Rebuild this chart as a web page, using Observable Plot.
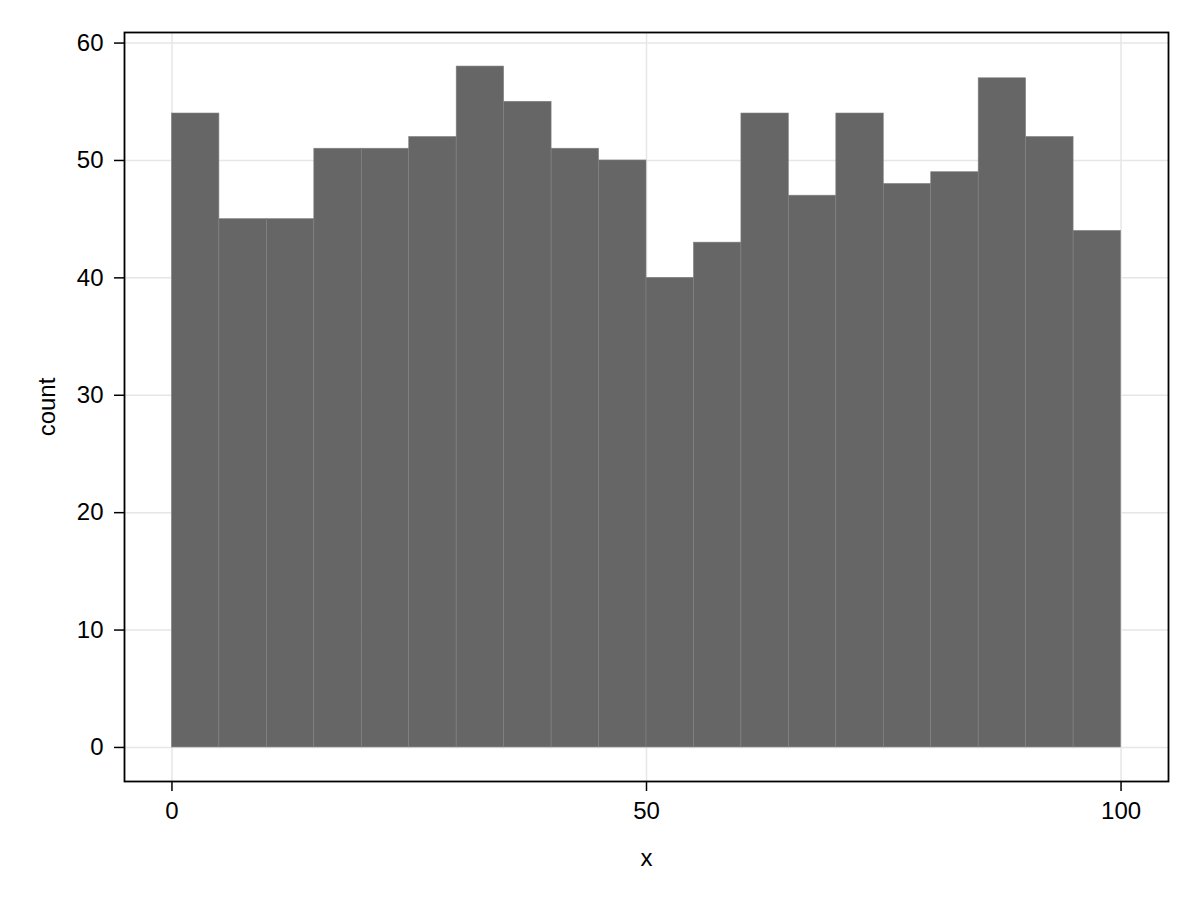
<!DOCTYPE html>
<html>
<head>
<meta charset="utf-8">
<script src="https://cdn.jsdelivr.net/npm/d3@7"></script>
<script src="https://cdn.jsdelivr.net/npm/@observablehq/plot@0.6"></script>
<style>
  html, body { margin: 0; padding: 0; background: #fff; }
  #chart svg { display: block; }
</style>
</head>
<body>
<div id="chart"></div>
<script>
const binStart = [0, 5, 10, 15, 20, 25, 30, 35, 40, 45, 50, 55, 60, 65, 70, 75, 80, 85, 90, 95];
const binEnd   = [5, 10, 15, 20, 25, 30, 35, 40, 45, 50, 55, 60, 65, 70, 75, 80, 85, 90, 95, 100];
const counts   = [54, 45, 45, 51, 51, 52, 58, 55, 51, 50, 40, 43, 54, 47, 54, 48, 49, 57, 52, 44];
const xTicks = [0, 50, 100];
const yTicks = [0, 10, 20, 30, 40, 50, 60];

const bins = binStart.map((s, i) => ({x1: s, x2: binEnd[i], count: counts[i]}));

const chart = Plot.plot({
  width: 1200,
  height: 900,
  marginLeft: 124,
  marginRight: 32,
  marginTop: 32,
  marginBottom: 119,
  style: {fontFamily: "'Liberation Sans', Arial, sans-serif", fontSize: "24px", color: "#000", background: "#fff"},
  x: {domain: [-5, 105]},
  y: {domain: [-2.9, 60.9]},
  marks: [
    Plot.gridX(xTicks, {stroke: "#e6e6e6", strokeOpacity: 1, strokeWidth: 1.5}),
    Plot.gridY(yTicks, {stroke: "#e6e6e6", strokeOpacity: 1, strokeWidth: 1.5}),
    Plot.rectY(bins, {x1: "x1", x2: "x2", y1: 0, y2: "count", fill: "#666666", stroke: "#828282", strokeWidth: 0.6, inset: 0}),
    Plot.frame({stroke: "#000", strokeWidth: 1.8}),
    Plot.axisX(xTicks, {tickSize: 10, tickPadding: 10, strokeWidth: 1.5, fontSize: 24, label: "x", labelAnchor: "center", labelArrow: "none", labelOffset: 84}),
    Plot.axisY(yTicks, {tickSize: 10, tickPadding: 11, strokeWidth: 1.5, fontSize: 24, label: "count", labelAnchor: "center", labelArrow: "none", labelOffset: 87})
  ]
});
document.getElementById("chart").appendChild(chart);
</script>
</body>
</html>
